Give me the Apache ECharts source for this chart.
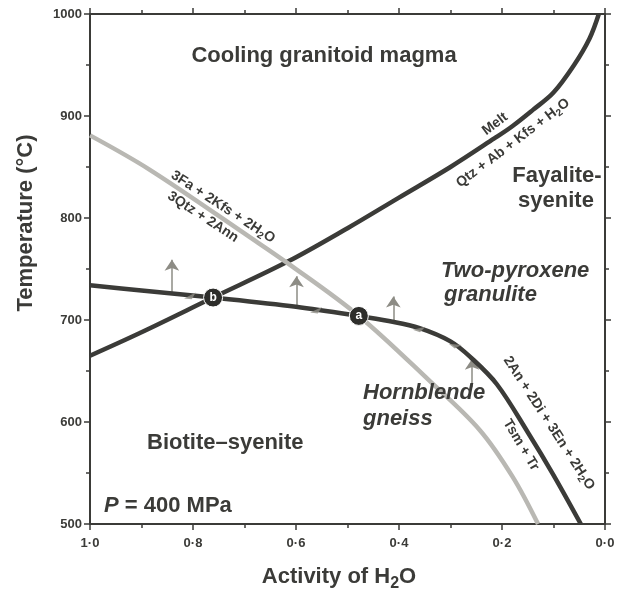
<!DOCTYPE html>
<html>
<head>
<meta charset="utf-8">
<script src="https://cdn.jsdelivr.net/npm/echarts@6/dist/echarts.min.js"></script>
<style>
html, body { margin: 0; padding: 0; background: #fff; }
#chart { width: 620px; height: 589px; }
</style>
</head>
<body>
<div id="chart"></div>
<script>
// 轴刻度
var yTicks = [500, 600, 700, 800, 900, 1000];
var xTicks = [1.0, 0.8, 0.6, 0.4, 0.2, 0.0];

// Melt = Qtz + Ab + Kfs + H2O
var meltA = [1.0, 0.9, 0.761, 0.617, 0.5, 0.4, 0.3, 0.215, 0.18, 0.14, 0.1, 0.06, 0.03, 0.012];
var meltT = [665, 688, 722, 757, 790, 820, 850, 878, 890, 906, 923, 950, 976, 1000];

// 3Fa + 2Kfs + 2H2O = 3Qtz + 2Ann (灰线)
var annA = [1.0, 0.883, 0.689, 0.617, 0.478, 0.34, 0.243, 0.179, 0.13];
var annT = [881, 847, 781, 756, 704, 640, 592, 546, 500];

// Tsm + Tr = 2An + 2Di + 3En + 2H2O
var tsmA = [1.0, 0.9, 0.761, 0.6, 0.478, 0.42, 0.36, 0.3, 0.26, 0.21, 0.15, 0.1, 0.047];
var tsmT = [734, 729, 722, 713, 704, 699, 692, 679, 663, 637, 590, 548, 500];

// 不变点 a, b
var pointName = ['b', 'a'];
var pointA = [0.761, 0.478];
var pointT = [722, 704];

// 竖向箭头
var arrowA = [0.841, 0.599, 0.411, 0.258];
var arrowFrom = [727, 713, 698, 634];
var arrowTo = [759, 743, 723, 662];

// 线上的半箭头
var harpA = [0.806, 0.561, 0.361, 0.291];
var harpT = [724, 710, 692, 676];
var harpRot = [84, 82, 71, 52];

var ink = '#3b3b38';
var grey = '#b9b8b3';
var arrowGrey = '#8d8c85';
var FF = '"Liberation Sans", Arial, Helvetica, sans-serif';

function pairs (xs, ys) {
    return xs.map(function (x, i) { return [x, ys[i]] })
}

function dotLabel (v) {
    return v.toFixed(1).replace('.', '\u00b7')
}

function plainLabel (v) {
    return String(v)
}

function axisBase (showLabel, margin, formatter) {
    return {
        axisLine: { show: true, onZero: false, lineStyle: { color: ink, width: 2 } },
        axisTick: { show: true, inside: false, length: 6, lineStyle: { color: ink, width: 1.5 } },
        minorTick: { show: true, splitNumber: 2, length: 4, lineStyle: { color: ink, width: 1.5 } },
        splitLine: { show: false },
        minorSplitLine: { show: false },
        axisLabel: {
            show: showLabel,
            margin: margin,
            color: ink,
            fontSize: 13,
            fontWeight: 'bold',
            fontFamily: FF,
            formatter: formatter
        }
    }
}

function xAxisOf (pos, showLabel) {
    var a = axisBase(showLabel, 13, dotLabel)
    a.type = 'value'
    a.position = pos
    a.inverse = true
    a.min = xTicks[xTicks.length - 1]
    a.max = xTicks[0]
    a.interval = 0.2
    return a
}

function yAxisOf (pos, showLabel) {
    var a = axisBase(showLabel, 8, plainLabel)
    a.type = 'value'
    a.position = pos
    a.min = yTicks[0]
    a.max = yTicks[yTicks.length - 1]
    a.interval = 100
    return a
}

// 文字（支持下标 {s|2} 和斜体 {i|P}）
function textEl (x, y, text, size, opts) {
    opts = opts || {}
    var weight = opts.weight || 'bold'
    var fstyle = opts.italic ? 'italic' : 'normal'
    var subSize = Math.round(size * 0.72)
    return {
        type: 'text',
        x: x,
        y: y,
        rotation: (opts.rot || 0) * Math.PI / 180,
        z: 100,
        style: {
            text: text,
            fill: ink,
            fontSize: size,
            fontWeight: weight,
            fontStyle: fstyle,
            fontFamily: FF,
            align: opts.align || 'center',
            verticalAlign: 'middle',
            lineHeight: Math.round(size * 1.3),
            rich: {
                s: { fill: ink, fontSize: subSize, fontWeight: weight, fontStyle: fstyle, fontFamily: FF,
                     verticalAlign: 'bottom', lineHeight: subSize },
                i: { fill: ink, fontSize: size, fontWeight: weight, fontStyle: 'italic', fontFamily: FF,
                     lineHeight: Math.round(size * 1.3) }
            }
        }
    }
}

var myChart = echarts.init(document.getElementById('chart'));
var option = {
    animation: false,
    backgroundColor: '#fff',
    grid: { left: 90, right: 15, top: 14, bottom: 65, containLabel: false },
    xAxis: [xAxisOf('bottom', true), xAxisOf('top', false)],
    yAxis: [yAxisOf('left', true), yAxisOf('right', false)],
    series: [
        {
            type: 'lines',
            coordinateSystem: 'cartesian2d',
            z: 1,
            symbol: ['none', 'arrow'],
            symbolSize: 11,
            lineStyle: { color: arrowGrey, width: 1.5, opacity: 1 },
            data: arrowA.map(function (a, i) {
                return { coords: [[a, arrowFrom[i]], [a, arrowTo[i]]] }
            })
        },
        {
            name: 'melt',
            type: 'line',
            z: 2,
            smooth: 0.35,
            showSymbol: false,
            lineStyle: { color: ink, width: 4.5 },
            data: pairs(meltA, meltT)
        },
        {
            name: 'tsm',
            type: 'line',
            z: 2,
            smooth: 0.35,
            showSymbol: false,
            lineStyle: { color: ink, width: 4.5 },
            data: pairs(tsmA, tsmT)
        },
        {
            name: 'ann',
            type: 'line',
            z: 3,
            smooth: 0.35,
            showSymbol: false,
            lineStyle: { color: grey, width: 4.5 },
            data: pairs(annA, annT)
        },
        {
            type: 'scatter',
            z: 4,
            symbol: 'path://M0,0 L6,10 L0,7 Z',
            symbolSize: [7, 11],
            itemStyle: { color: arrowGrey },
            data: harpA.map(function (a, i) {
                return { value: [a, harpT[i]], symbolRotate: harpRot[i] }
            })
        },
        {
            type: 'scatter',
            z: 5,
            symbolSize: 19,
            itemStyle: { color: '#2e2e2b', borderColor: '#fff', borderWidth: 1, opacity: 1 },
            label: {
                show: true,
                position: 'inside',
                color: '#fff',
                fontSize: 12,
                fontWeight: 'bold',
                fontFamily: FF,
                formatter: function (p) { return p.data[2] }
            },
            data: pointA.map(function (a, i) { return [a, pointT[i], pointName[i]] })
        }
    ],
    graphic: [
        textEl(26, 223, 'Temperature (\u00b0C)', 22, { rot: 90 }),
        textEl(339, 577, 'Activity of H{s|2}O', 22),
        textEl(324, 56, 'Cooling granitoid magma', 22),
        textEl(557, 176, 'Fayalite-', 22),
        textEl(556, 201, 'syenite', 22),
        textEl(441, 271, 'Two-pyroxene', 22, { italic: true, align: 'left' }),
        textEl(444, 295, 'granulite', 22, { italic: true, align: 'left' }),
        textEl(363, 393, 'Hornblende', 22, { italic: true, align: 'left' }),
        textEl(363, 419, 'gneiss', 22, { italic: true, align: 'left' }),
        textEl(147, 443, 'Biotite\u2013syenite', 22, { align: 'left' }),
        textEl(104, 506, '{i|P} = 400 MPa', 22, { align: 'left' }),
        textEl(495, 124, 'Melt', 14, { rot: 37 }),
        textEl(513, 143, 'Qtz + Ab + Kfs + H{s|2}O', 14, { rot: 37 }),
        textEl(223, 207, '3Fa + 2Kfs + 2H{s|2}O', 14, { rot: -33 }),
        textEl(203, 217, '3Qtz + 2Ann', 14, { rot: -33 }),
        textEl(549, 423, '2An + 2Di + 3En + 2H{s|2}O', 14, { rot: -57 }),
        textEl(521, 445, 'Tsm + Tr', 14, { rot: -59 })
    ]
};
myChart.setOption(option)
</script>
</body>
</html>
